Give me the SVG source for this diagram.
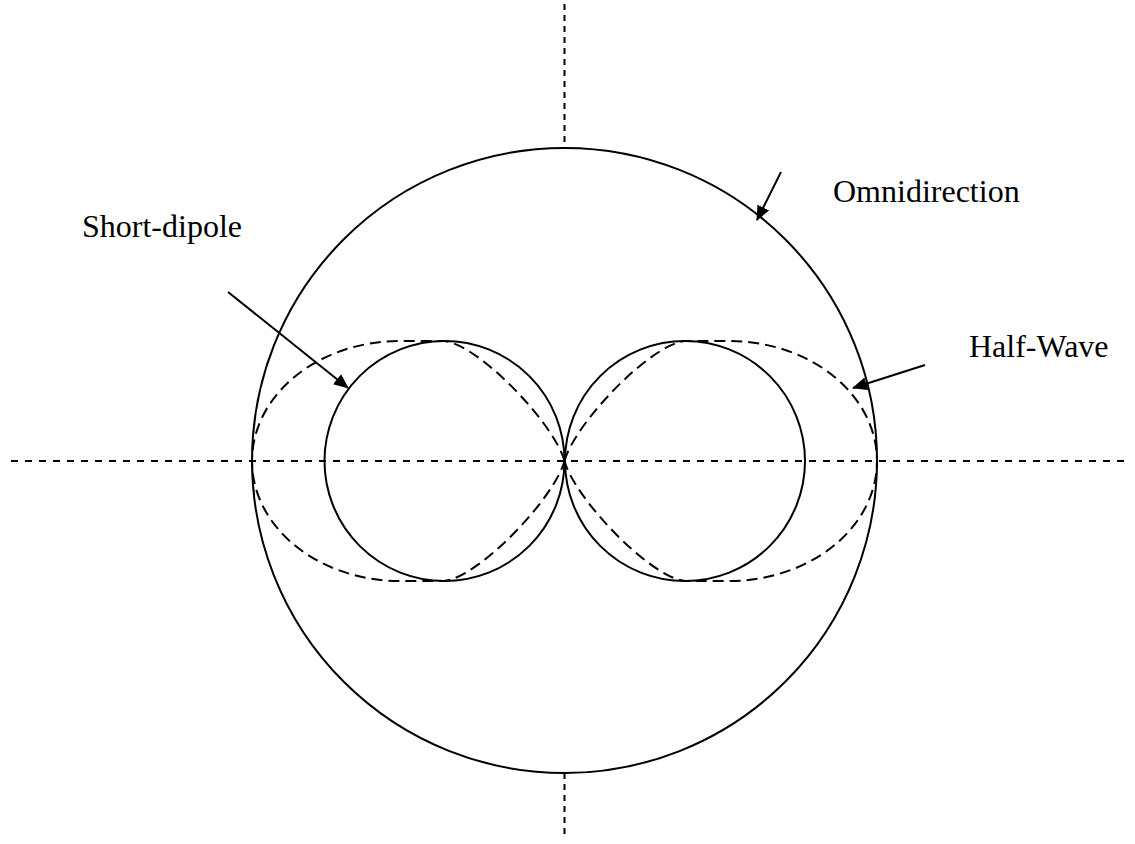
<svg xmlns="http://www.w3.org/2000/svg" width="1135" height="844" viewBox="0 0 1135 844">
  <style>
    .solid { fill: none; stroke: #000; stroke-width: 2; }
    .lobe { fill: none; stroke: #000; stroke-width: 2; stroke-dasharray: 11 6; }
    .axis-h { fill: none; stroke: #000; stroke-width: 2; stroke-dasharray: 7 7; }
    .axis-v { fill: none; stroke: #000; stroke-width: 2; stroke-dasharray: 6 5; }
    .arrow { fill: none; stroke: #000; stroke-width: 2; marker-end: url(#ah); }
    .label { font-family: "Liberation Serif", "Times New Roman", serif; font-size: 32px; fill: #000; }
  </style>
  <defs>
    <marker id="ah" markerUnits="userSpaceOnUse" viewBox="0 0 15 13" markerWidth="15" markerHeight="13" refX="14" refY="6.5" orient="auto">
      <path d="M0,0 L15,6.5 L0,13 Z" fill="#000"/>
    </marker>
  </defs>
  <rect width="1135" height="844" fill="#fff"/>

  <g id="axes">
    <line class="axis-h" x1="11" y1="461" x2="1125" y2="461"/>
    <line class="axis-v" x1="564.5" y1="4" x2="564.5" y2="148"/>
    <line class="axis-v" x1="564.5" y1="773" x2="564.5" y2="838"/>
  </g>

  <g id="omnidirection">
    <circle class="solid" cx="564.5" cy="460.5" r="312.5"/>
  </g>

  <g id="short-dipole">
    <circle class="solid" cx="444.5" cy="461" r="120"/>
    <circle class="solid" cx="685" cy="461" r="120"/>
  </g>

  <g id="half-wave">
    <path class="lobe" d="M564.5,461 C555,425 480,345 444,341 L400,341 A148,120 0 0 0 252,461 A148,120 0 0 0 400,581 L444,581 C480,577 555,497 564.5,461 Z"/>
    <path class="lobe" d="M564.5,461 C574,425 649,345 685,341 L729,341 A148,120 0 0 1 877,461 A148,120 0 0 1 729,581 L685,581 C649,577 574,497 564.5,461 Z"/>
  </g>

  <g id="connectors">
    <line class="arrow" x1="781" y1="172" x2="757" y2="220"/>
    <line class="arrow" x1="228" y1="292" x2="348" y2="388"/>
    <line class="arrow" x1="925" y1="365" x2="853" y2="388"/>
  </g>

  <g id="labels">
    <text class="label" x="833" y="202">Omnidirection</text>
    <text class="label" x="82" y="237">Short-dipole</text>
    <text class="label" x="969" y="357">Half-Wave</text>
  </g>
</svg>
